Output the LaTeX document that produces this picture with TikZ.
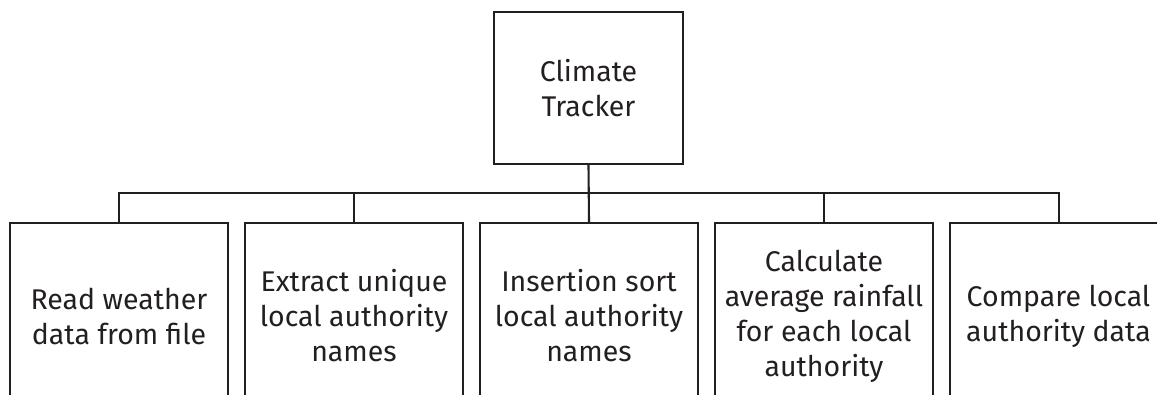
\documentclass[tikz,border=0pt]{standalone}
\usepackage{fontspec}
\setmainfont{Fira Sans}
\definecolor{ink}{HTML}{231F20}
\tikzset{
  lbl/.style={text=ink, align=center, font=\fontsize{28.5}{35}\selectfont},
  box/.style={lbl, draw=ink, line width=2.1pt, minimum width=218pt, inner sep=0pt},
  topbox/.style={box, minimum width=189pt, minimum height=152pt},
  child/.style={box, minimum height=186pt},
  link/.style={draw=ink, line width=2.1pt}
}
\begin{document}
\begin{tikzpicture}[x=1pt,y=-1pt]
\useasboundingbox (0,0) rectangle (1157,394);
\clip (0,0) rectangle (1157,394);
\node[topbox] (top) at (588.5,88) {Climate\\Tracker};
\node[child] (b1) at (119,316) {Read weather\\data from file};
\node[child] (b2) at (354,316) {Extract unique\\local authority\\names};
\node[child] (b3) at (589,316) {Insertion sort\\local authority\\names};
\node[child] (b4) at (824,316) {Calculate\\average rainfall\\for each local\\authority};
\node[child] (b5) at (1059,316) {};
\node[lbl, anchor=west, inner sep=0pt] (t5) at (966,316) {Compare local\\authority data};
\coordinate (bus) at (589,193);
\draw[link] (top.south) -- (b3.north);
\draw[link] (b1.north) -- (b1.north |- bus) -- (b5.north |- bus) -- (b5.north);
\draw[link] (b2.north) -- (b2.north |- bus);
\draw[link] (b4.north) -- (b4.north |- bus);
\end{tikzpicture}
\end{document}
